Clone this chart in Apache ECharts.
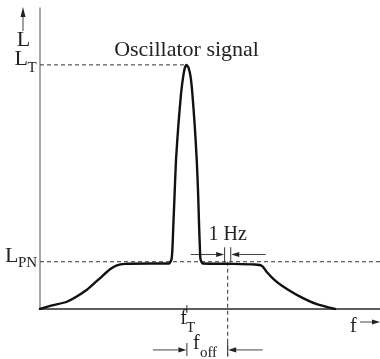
<!DOCTYPE html>
<html><head><meta charset="utf-8">
<script src="https://cdn.jsdelivr.net/npm/echarts@6/dist/echarts.min.js"></script>
<style>html,body{margin:0;padding:0;background:#fff}#c{width:380px;height:359px}</style>
</head><body><div id="c"></div>
<script>
// ---- data (abstract units: frequency 0..100, level 0..100) ----
const curveX = [0, 3.5, 7.9, 13.7, 17.6, 20.6, 22.6, 25.0, 32.4, 37.9, 38.7, 39.0, 39.2, 39.6, 40.0, 40.7, 41.5, 42.1, 42.6, 43.1, 43.7, 44.3, 44.8, 45.5, 46.1, 46.5, 46.8, 47.0, 47.2, 47.9, 55.9, 63.2, 65.3, 66.7, 69.1, 71.6, 76.5, 81.4, 86.8];
const curveY = [0, 1.2, 2.4, 6.3, 10.2, 13.2, 14.5, 15.0, 15.1, 15.1, 16.6, 21.3, 27.3, 38.5, 49.5, 61.1, 71.7, 77.1, 80.1, 81.1, 80.1, 77.1, 71.7, 61.1, 49.5, 38.5, 27.3, 21.3, 16.6, 15.1, 15.0, 14.8, 14.3, 12.3, 9.5, 7.4, 4.1, 1.6, 0];
const levelValues = [81.1, 15.7];          // L_T, L_PN
const levelSubs = ['T', 'PN'];
const carrierFreq = 43.2;                  // f_T
const offsetFreq = 55.2;                   // f_T + f_off
const bandEdges = [54.3, 56.1];            // 1 Hz measurement bandwidth
const signalLabel = 'Oscillator signal';
const bandLabel = '1 Hz';
const axisNames = ['L', 'f'];

const chart = echarts.init(document.getElementById('c'), null, {renderer: 'canvas'});
const FONT = '"Liberation Serif", "Times New Roman", serif';
const INK = '#222';
const dashed = {type: [4, 3], width: 1, color: '#333'};
const seg = (pts, style, extra) => Object.assign({
  type: 'line', data: pts, symbol: 'none', silent: true, clip: false,
  lineStyle: style, animation: false
}, extra || {});

const LT = levelValues[0], LPN = levelValues[1];
const peakX = curveX[curveY.indexOf(Math.max(...curveY))];
chart.setOption({
  animation: false,
  grid: {left: 40, right: 0, top: 8, bottom: 50},
  xAxis: {type: 'value', min: 0, max: 100,
    axisLine: {show: true, onZero: true, lineStyle: {color: '#2a2a2a', width: 1.5}},
    axisTick: {show: false}, axisLabel: {show: false}, splitLine: {show: false}},
  yAxis: {type: 'value', min: 0, max: 100,
    axisLine: {show: true, lineStyle: {color: '#8a8a8a', width: 1.5}},
    axisTick: {show: false}, axisLabel: {show: false}, splitLine: {show: false}},
  series: [
    seg([[0, LT], [peakX, LT]], dashed),
    seg([[0, LPN], [100, LPN]], dashed),
    seg([[offsetFreq, LPN], [offsetFreq, -17]], dashed),
    seg([[carrierFreq, 1.3], [carrierFreq, -1.3]], {width: 1, color: '#333'}),
    seg([[bandEdges[0], LPN - 0.3], [bandEdges[0], LPN + 4.8]], {width: 1, color: '#333'}),
    seg([[bandEdges[1], LPN - 0.3], [bandEdges[1], LPN + 4.8]], {width: 1, color: '#333'}),
    seg([[carrierFreq, -11.3], [carrierFreq, -15.6]], {width: 1, color: '#333'}),
    seg([[offsetFreq, -11.0], [offsetFreq, -15.6]], {width: 1, color: '#333'}),
    {type: 'line', data: curveX.map((x, i) => [x, curveY[i]]), smooth: 0.2,
      symbol: 'none', silent: true, z: 5, lineStyle: {color: '#111', width: 2.4, join: 'round', cap: 'round'}}
  ]
});

const px = (x, y) => chart.convertToPixel({gridIndex: 0}, [x, y]);
const origin = px(0, 0);
const pT = px(carrierFreq, LT);
const pPN = px(offsetFreq, LPN);
const pF = px(carrierFreq, 0);
const pO = px(offsetFreq, 0);
const peak = px(peakX, LT);

function txt(s, x, y, size, align) {
  return {type: 'text', x: x, y: y, silent: true,
    style: {text: s, fill: INK, font: size + 'px ' + FONT, align: align || 'left', verticalAlign: 'middle'}};
}
function arrow(x1, y, x2) {
  const d = x2 > x1 ? 1 : -1, hl = 8, hw = 2.6;
  return [
    {type: 'line', silent: true, shape: {x1: x1, y1: y, x2: x2 - d * hl, y2: y}, style: {stroke: '#444', lineWidth: 1}},
    {type: 'polygon', silent: true, shape: {points: [[x2, y], [x2 - d * hl, y - hw], [x2 - d * hl, y + hw]]}, style: {fill: '#222'}}
  ];
}
const ax = origin[0];
const axY = origin[1];
const bandY = px(0, LPN + 2.4)[1];
const offY = px(0, -13.6)[1];
const g = [];
// y axis name with up arrow
g.push({type: 'line', silent: true, shape: {x1: ax - 17, y1: 31, x2: ax - 17, y2: 16}, style: {stroke: '#444', lineWidth: 1}});
g.push({type: 'polygon', silent: true, shape: {points: [[ax - 17, 7], [ax - 19.5, 17], [ax - 14.5, 17]]}, style: {fill: '#222'}});
g.push(txt(axisNames[0], ax - 16.5, 40.5, 22, 'center'));
// level labels
g.push(txt('L', ax - 12, pT[1] - 5.5, 22, 'right'));
g.push(txt(levelSubs[0], ax - 12.5, pT[1] + 3, 15, 'left'));
g.push(txt('L', ax - 21.5, pPN[1] - 6, 22, 'right'));
g.push(txt(levelSubs[1], ax - 22, pPN[1] + 1.5, 15, 'left'));
// signal label
g.push(txt(signalLabel, peak[0], pT[1] - 14.5, 22, 'center'));
// 1 Hz
g.push(txt(bandLabel, pPN[0], 235.2, 20, 'center'));
const b0 = px(bandEdges[0], 0)[0], b1 = px(bandEdges[1], 0)[0];
g.push(...arrow(b0 - 34, bandY, b0 - 0.5));
g.push(...arrow(b1 + 35, bandY, b1 + 0.5));
// f_T
g.push(txt('f', pF[0], axY + 9.5, 20, 'right'));
g.push(txt('T', pF[0] - 1, axY + 19.5, 15, 'left'));
// f_off
g.push(txt('f', pF[0] + 6, axY + 34.5, 20, 'left'));
g.push(txt('off', pF[0] + 13, axY + 44, 15, 'left'));
g.push(...arrow(pF[0] - 34, offY, pF[0] - 0.5));
g.push(...arrow(pO[0] + 35, offY, pO[0] + 0.5));
// f axis name
g.push(txt(axisNames[1], 350, axY + 17.5, 20, 'left'));
g.push(...arrow(360, axY + 13, 380));
chart.setOption({graphic: g});
</script>
</body></html>
